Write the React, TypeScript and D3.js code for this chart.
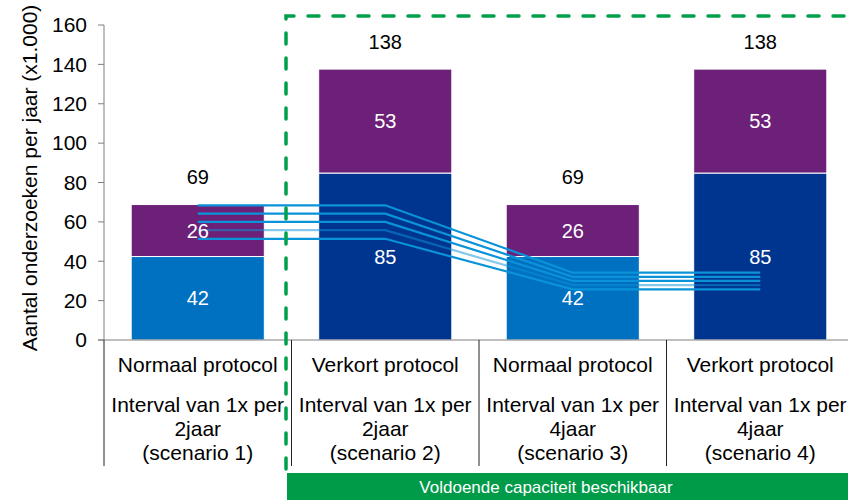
import * as d3 from 'd3';

const protocols = ['Normaal protocol', 'Verkort protocol', 'Normaal protocol', 'Verkort protocol'];
const intervals = ['2jaar', '2jaar', '4jaar', '4jaar'];
const scenarios = ['(scenario 1)', '(scenario 2)', '(scenario 3)', '(scenario 4)'];
const categories = ['s1', 's2', 's3', 's4'];

const lowerValues = [42.4, 84.8, 42.4, 84.8];
const upperValues = [26.4, 52.8, 26.4, 52.8];

// capaciteitslijnen: waarde bij 2-jaars en bij 4-jaars interval
const capStart = [68.4, 64.2, 60.0, 55.8, 51.4];
const capEnd = [34.2, 32.1, 30.0, 27.9, 25.7];
const capOpacity = [1, 1, 1, 0.5, 1];

const yTicks = [0, 20, 40, 60, 80, 100, 120, 140, 160];

const W = 848;
const H = 500;
const FONT = 'Liberation Sans, Arial, sans-serif';
const lowerColors = ['#0070C0', '#00358F', '#0070C0', '#00358F'];
const upperColor = '#6C2077';
const green = '#009B48';

export default function App() {
  const y = d3.scaleLinear().domain([0, 160]).range([340, 25]);
  const x = d3.scaleBand<string>()
    .domain(categories)
    .range([104, 854])
    .paddingInner(0.29)
    .paddingOuter(0.145);
  const step = x.step();
  const center = (c: string) => (x(c) as number) + x.bandwidth() / 2;

  const line = d3.line<[number, number]>().x(d => d[0]).y(d => d[1]);

  return (
    <div style={{ position: 'absolute', left: 0, top: 0 }}>
      <svg width={W} height={H} style={{ display: 'block', fontFamily: FONT }}>
        {/* bars */}
        {categories.map((c, i) => (
          <g key={c}>
            <rect x={x(c)} y={y(lowerValues[i])} width={x.bandwidth()}
              height={y(0) - y(lowerValues[i])} fill={lowerColors[i]} stroke="#fff" strokeWidth={1} />
            <rect x={x(c)} y={y(lowerValues[i] + upperValues[i])} width={x.bandwidth()}
              height={y(lowerValues[i]) - y(lowerValues[i] + upperValues[i])} fill={upperColor}
              stroke="#fff" strokeWidth={1} />
          </g>
        ))}

        {/* y axis */}
        <line x1={104} x2={104} y1={y(160)} y2={y(0)} stroke="#7f7f7f" strokeWidth={1} />
        {yTicks.map(t => (
          <g key={t}>
            <line x1={98} x2={104} y1={y(t)} y2={y(t)} stroke="#7f7f7f" strokeWidth={1} />
            <text x={87} y={y(t)} dy="0.35em" textAnchor="end" fontSize={21} fill="#000">{t}</text>
          </g>
        ))}
        <text transform={`translate(30,178) rotate(-90)`} dy="0.35em" textAnchor="middle"
          fontSize={21} fill="#000">Aantal onderzoeken per jaar (x1.000)</text>

        {/* x axis + category dividers */}
        <line x1={98} x2={W} y1={y(0)} y2={y(0)} stroke="#7f7f7f" strokeWidth={1} />
        {categories.map((c, i) => {
          const left = (x(c) as number) - step * 0.145;
          return <line key={c} x1={left} x2={left} y1={y(0)} y2={466} stroke="#222" strokeWidth={1} />;
        })}
        {categories.map((c, i) => (
          <g key={c} textAnchor="middle" fontSize={21} fill="#000">
            <text x={center(c)} y={372}>{protocols[i]}</text>
            <text x={center(c)} y={411.5}>Interval van 1x per</text>
            <text x={center(c)} y={436}>{intervals[i]}</text>
            <text x={center(c)} y={460}>{scenarios[i]}</text>
          </g>
        ))}

        {/* capaciteitslijnen */}
        {capStart.map((v, i) => {
          const pts: [number, number][] = [
            [center('s1'), y(v)],
            [center('s2'), y(v)],
            [center('s3'), y(capEnd[i])],
            [center('s4'), y(capEnd[i])],
          ];
          return (
            <path key={i} d={line(pts) as string} fill="none" stroke="#0A93D8"
              strokeOpacity={capOpacity[i]} strokeWidth={2.2} />
          );
        })}

        {/* data labels */}
        {categories.map((c, i) => {
          const total = lowerValues[i] + upperValues[i];
          return (
            <g key={c} textAnchor="middle" fontSize={20}>
              <text x={center(c)} y={y(lowerValues[i] / 2)} dy="0.35em" fill="#fff">
                {Math.round(lowerValues[i])}
              </text>
              <text x={center(c)} y={y(lowerValues[i] + upperValues[i] / 2)} dy="0.35em" fill="#fff">
                {Math.round(upperValues[i])}
              </text>
              <text x={center(c)} y={y(total + 14)} dy="0.35em" fill="#000">
                {Math.round(total)}
              </text>
            </g>
          );
        })}

        {/* kader voldoende capaciteit */}
        <path d={`M286,469 V16 H${W + 20}`} fill="none" stroke="#00A04B" strokeWidth={3.5}
          strokeDasharray="11 14" strokeLinecap="round" />
        <rect x={287} y={473} width={W - 287} height={H - 473} fill={green} />
        <text x={546} y={487} dy="0.35em" textAnchor="middle" fontSize={17} fill="#fff">
          Voldoende capaciteit beschikbaar
        </text>
      </svg>
    </div>
  );
}
